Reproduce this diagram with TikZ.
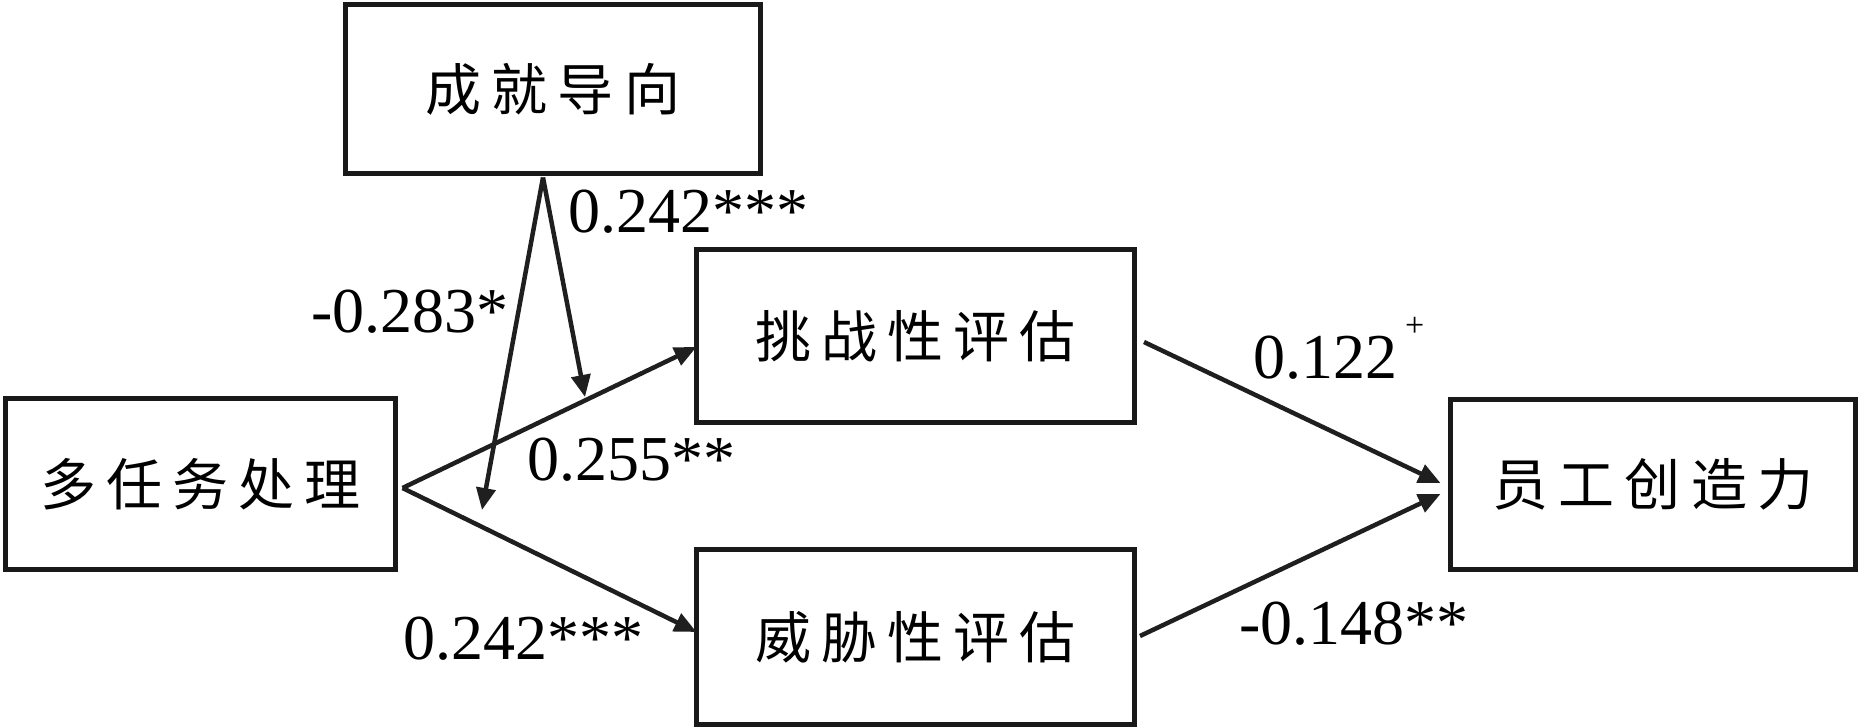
\documentclass[tikz,border=0pt]{standalone}
\usepackage{fontspec}
\setmainfont{Liberation Serif}
\newfontfamily\cjk[LetterSpace=18]{Noto Sans CJK SC}
\usetikzlibrary{arrows.meta}
\tikzset{var_box/.style={rectangle, draw=black!90, line width=5pt, inner sep=0pt, outer sep=0pt, font=\cjk\fontsize{56}{60}\selectfont}}
\tikzset{path_arrow/.style={draw=black!88, line width=4.5pt, -{Triangle[length=22pt,width=19pt]}}}
\tikzset{coef_label/.style={inner sep=0pt, anchor=base west, font=\fontsize{64}{70}\selectfont}}

\begin{document}
\begin{tikzpicture}[x=1pt,y=-1pt]
    \useasboundingbox (0,0) rectangle (1861,727);
    \draw (553,89) node[var_box,minimum width=415pt,minimum height=169pt](achieve){成就导向};
    \draw (200.5,484) node[var_box,minimum width=390pt,minimum height=171pt](multi){多任务处理};
    \draw (915.5,336) node[var_box,minimum width=438pt,minimum height=172pt](chal){挑战性评估};
    \draw (915.5,637) node[var_box,minimum width=438pt,minimum height=175pt](threat){威胁性评估};
    \draw (1653,484) node[var_box,minimum width=405pt,minimum height=170pt](creat){员工创造力};
    \draw ([xshift=7pt,yshift=-4pt]multi.east) coordinate(fork);
    \draw ([xshift=-10pt,yshift=-4pt]achieve.south) coordinate(mod);
    \draw (585,397) coordinate(mod_a);
    \draw (482,510) coordinate(mod_b);
    \draw[path_arrow] (fork)--([yshift=-11pt]chal.west);
    \draw[path_arrow] (fork)--([yshift=5pt]threat.west);
    \draw[path_arrow] ([xshift=9.5pt,yshift=-6pt]chal.east)--([xshift=-10pt,yshift=1pt]creat.west);
    \draw[path_arrow] ([xshift=5.5pt,yshift=1pt]threat.east)--([xshift=-10pt,yshift=-10pt]creat.west);
    \draw[path_arrow] (mod)--(mod_a);
    \draw[path_arrow] (mod)--(mod_b);
    \draw (568,233) node[coef_label](c_mod_a){0.242***};
    \draw (311,333) node[coef_label](c_mod_b){-0.283*};
    \draw (527,480) node[coef_label](c_chal){0.255**};
    \draw (403,659) node[coef_label](c_threat){0.242***};
    \draw (1253,378) node[coef_label](c_chal_out){0.122\hspace{8pt}\raisebox{42pt}{\fontsize{34}{34}\selectfont +}};
    \draw (1239,644) node[coef_label](c_threat_out){-0.148**};
\end{tikzpicture}
\end{document}
